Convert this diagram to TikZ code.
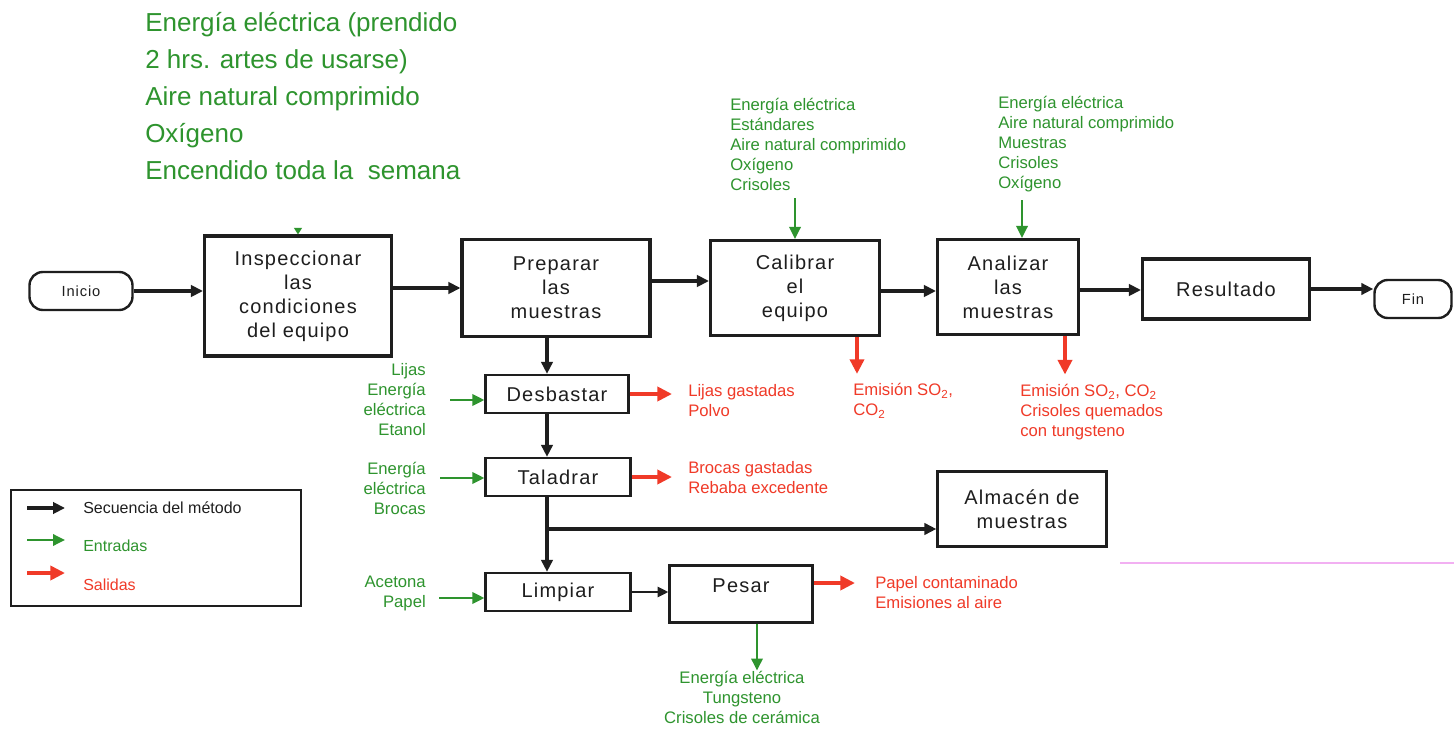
\documentclass[tikz,border=0pt]{standalone}
\usepackage{fontspec}
\setmainfont{Liberation Sans}
\newfontfamily\boxfont[LetterSpace=6]{Liberation Sans}
\usetikzlibrary{arrows.meta,calc}
\definecolor{ingreen}{RGB}{46,148,46}
\definecolor{outred}{RGB}{240,58,40}
\definecolor{ink}{RGB}{30,30,30}
\definecolor{rulepink}{RGB}{242,176,242}

\begin{document}
\begin{tikzpicture}[x=0.75pt,y=-0.75pt,
  stepbox/.style={draw=ink, line width=2.3pt, fill=white, align=center,
    font=\boxfont\fontsize{15}{18}\selectfont, text=ink, inner sep=0pt},
  smallbox/.style={stepbox, line width=1.7pt},
  terminal/.style={draw=ink, line width=1.8pt, rounded corners=10pt, fill=white,
    font=\boxfont\fontsize{11}{13}\selectfont, text=ink, inner sep=0pt},
  intext/.style={text=ingreen, font=\fontsize{12.5}{15}\selectfont, inner sep=0pt},
  outtext/.style={text=outred, font=\fontsize{12.5}{15}\selectfont, inner sep=0pt, align=left, anchor=west},
  flow/.style={draw=ink, line width=2.6pt, -{Triangle[length=9pt,width=8.5pt]}},
  thinflow/.style={draw=ink, line width=1.6pt, -{Triangle[length=8pt,width=7.5pt]}},
  inarrow/.style={draw=ingreen, line width=1.8pt, -{Triangle[length=9pt,width=8.5pt]}},
  outarrow/.style={draw=outred, line width=2.8pt, -{Triangle[length=11pt,width=10.5pt]}},
  legtext/.style={anchor=west, inner sep=0pt, font=\fontsize{12}{14}\selectfont},
]
\fill[white] (0,0) rectangle (1454,731);
\useasboundingbox (0,0) rectangle (1454,731);

% ---- process steps ----
\node[terminal, minimum width=77.25pt, minimum height=28.5pt] (inicio) at (81,291) {Inicio};
\node[stepbox, minimum width=140.25pt, minimum height=90pt] (insp) at (298,296) {Inspeccionar\\las\\condiciones\\del equipo};
\node[stepbox, minimum width=141pt, minimum height=72.75pt] (prep) at (556,288) {Preparar\\las\\muestras};
\node[stepbox, minimum width=126.75pt, minimum height=71.25pt] (cal) at (795,288) {Calibrar\\el\\equipo};
\node[stepbox, minimum width=105.75pt, minimum height=71.25pt] (ana) at (1008,287) {Analizar\\las\\muestras};
\node[stepbox, minimum width=125.25pt, minimum height=45pt] (res) at (1226,289) {Resultado};
\node[terminal, minimum width=57.75pt, minimum height=28.5pt] (fin) at (1413,299) {Fin};
\node[smallbox, minimum width=107.25pt, minimum height=28.5pt] (desb) at (557,394) {Desbastar};
\node[smallbox, minimum width=108.75pt, minimum height=28.5pt] (tal) at (558,477) {Taladrar};
\node[smallbox, minimum width=126.75pt, minimum height=56.25pt] (alm) at (1022,509) {Almacén de\\muestras};
\node[smallbox, minimum width=108.75pt, minimum height=28.5pt] (lim) at (558,592) {Limpiar};
\node[smallbox, minimum width=107.25pt, minimum height=42.75pt] (pes) at (741,594) {Pesar\\[-6pt]\mbox{}};

% ---- inputs (green) ----
\node[intext, font=\fontsize{19.5}{27.75}\selectfont, align=left, anchor=west] (elec) at (145,96)
  {Energía eléctrica (prendido\\2 hrs. artes de usarse)\\Aire natural comprimido\\Oxígeno\\Encendido toda la\ \ semana};
\node[intext, align=left, anchor=west] (calin) at (730,144) {Energía eléctrica\\Estándares\\Aire natural comprimido\\Oxígeno\\Crisoles};
\node[intext, align=left, anchor=west] (anain) at (998,144) {Energía eléctrica\\Aire natural comprimido\\Muestras\\Crisoles\\Oxígeno};
\node[intext, align=right, anchor=east] (desin) at (426,400) {Lijas\\Energía\\eléctrica\\Etanol};
\node[intext, align=right, anchor=east] (talin) at (426,488) {Energía\\eléctrica\\Brocas};
\node[intext, align=right, anchor=east] (limin) at (426,593) {Acetona\\Papel};
\node[intext, align=center] (pesin) at (742,697) {Energía eléctrica\\Tungsteno\\Crisoles de cerámica};

% ---- outputs (red) ----
\node[outtext] (desout) at (688,401) {Lijas gastadas\\Polvo};
\node[outtext] (talout) at (688,478) {Brocas gastadas\\Rebaba excedente};
\node[outtext] (calout) at (853,401) {Emisión SO\textsubscript{2},\\CO\textsubscript{2}};
\node[outtext] (anaout) at (1020,412) {Emisión SO\textsubscript{2}, CO\textsubscript{2}\\Crisoles quemados\\con tungsteno};
\node[outtext] (pesout) at (875,593) {Papel contaminado\\Emisiones al aire};

% ---- main sequence ----
\draw[flow] (inicio.east) -- (inicio.east -| insp.west);
\draw[flow] (prep.west -| insp.east) -- (prep.west);
\coordinate (pc) at ($(prep.east)+(0,-7)$);
\draw[flow] (pc) -- (pc -| cal.west);
\coordinate (ca) at ($(cal.east)+(0,3)$);
\draw[flow] (ca) -- (ca -| ana.west);
\coordinate (ar) at ($(ana.east)+(0,3)$);
\draw[flow] (ar) -- (ar -| res.west);
\draw[flow] (res.east) -- (res.east -| fin.west);

\coordinate (col) at (547,0);
\draw[flow] (prep.south -| col) -- (desb.north -| col);
\draw[flow] (desb.south -| col) -- (tal.north -| col);
\draw[flow] (tal.south -| col) -- (lim.north -| col);
\coordinate (split) at (547,529);
\draw[flow] (split) -- (split -| alm.west);
\draw[thinflow] (lim.east) -- (lim.east -| pes.west);

% ---- input arrows ----
\draw[ingreen, line width=1pt, -{Triangle[length=5pt,width=6pt]}, shorten <=40pt] (elec.south -| insp.north) -- (insp.north);
\coordinate (calx) at (795,0);
\draw[inarrow, shorten <=6pt] (calin.south -| calx) -- (cal.north -| calx);
\coordinate (anax) at (1022,0);
\draw[inarrow, shorten <=6pt] (anain.south -| anax) -- (ana.north -| anax);
\draw[inarrow, shorten <=18pt] (desin.east) -- (desin.east -| desb.west);
\coordinate (tin) at ($(tal.west)+(-44,1)$);
\draw[inarrow] (tin) -- (tin -| tal.west);
\coordinate (lin) at ($(lim.west)+(-45,6)$);
\draw[inarrow] (lin) -- (lin -| lim.west);
\coordinate (pesx) at (757,0);
\draw[inarrow] (pes.south -| pesx) -- (pesin.north -| pesx);

% ---- output arrows ----
\coordinate (calr) at (857,0);
\draw[outarrow, shorten >=7pt] (cal.south -| calr) -- (calout.north -| calr);
\coordinate (anar) at (1065,0);
\draw[outarrow, shorten >=7pt] (ana.south -| anar) -- (anaout.north -| anar);
\draw[outarrow, shorten >=12pt] (desb.east) -- (desb.east -| desout.west);
\draw[outarrow, shorten >=12pt] (tal.east) -- (tal.east -| talout.west);
\coordinate (po) at ($(pes.east)+(0,-11)$);
\draw[outarrow, shorten >=15pt] (po) -- (po -| pesout.west);

% ---- legend ----
\node[draw=ink, line width=1.5pt, minimum width=217.5pt, minimum height=87pt, inner sep=0pt] (legend) at (155.5,548) {};
\node[legtext, text=ink] (lgseq) at (83,508) {Secuencia del método};
\node[legtext, text=ingreen] (lgin) at (83,546) {Entradas};
\node[legtext, text=outred] (lgout) at (83,585) {Salidas};
\coordinate (ls1) at (27,508);
\draw[flow] (ls1) -- ++(38,0);
\coordinate (ls2) at (27,540);
\draw[inarrow] (ls2) -- ++(38,0);
\coordinate (ls3) at (27,573);
\draw[outarrow] (ls3) -- ++(38,0);

% ---- pink rule at right ----
\coordinate (pk1) at (1120,563);
\coordinate (pk2) at (1454,563);
\draw[rulepink, line width=1.2pt] (pk1) -- (pk2);
\end{tikzpicture}
\end{document}
